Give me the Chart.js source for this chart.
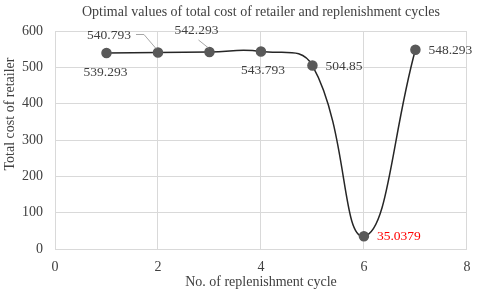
<!DOCTYPE html>
<html>
<head>
<meta charset="utf-8">
<script src="https://cdn.jsdelivr.net/npm/chart.js@4.4.1/dist/chart.umd.min.js"></script>
<style>
  html, body { margin: 0; padding: 0; background: #fff; }
</style>
</head>
<body>
<canvas id="costChart" width="480" height="295"></canvas>
<script>
// data
const cycles = [1, 2, 3, 4, 5, 6, 7];
const totalCost = [539.293, 540.793, 542.293, 543.793, 504.85, 35.0379, 548.293];
const xTicks = [0, 2, 4, 6, 8];
const yTicks = [0, 100, 200, 300, 400, 500, 600];

const chartTitle = 'Optimal values of total cost of retailer and replenishment cycles';
const xTitle = 'No. of replenishment cycle';
const yTitle = 'Total cost of retailer';

// where each value label sits, relative to its point
const labelPlacement = [
    { dx: -1, dy: 19, align: 'center' },
    { dx: -49, dy: -17, align: 'center', leader: [[-22, -18], [-14, -18], [-2, -4]] },
    { dx: -13, dy: -22, align: 'center', leader: [[-11, -12], [-1, -4]] },
    { dx: 2, dy: 19.5, align: 'center' },
    { dx: 13, dy: 1, align: 'left' },
    { dx: 13, dy: 0.5, align: 'left', color: '#ff0000' },
    { dx: 13, dy: 0.5, align: 'left' }
];

const serif = '"Liberation Serif", "Times New Roman", serif';
Chart.defaults.font.family = serif;
Chart.defaults.color = '#404040';

const valueLabels = {
    id: 'valueLabels',
    afterDatasetsDraw(chart) {
        const ctx = chart.ctx;
        const meta = chart.getDatasetMeta(0);
        ctx.save();
        ctx.font = '13.5px ' + serif;
        ctx.textBaseline = 'middle';
        meta.data.forEach(function(pt, i) {
            const p = labelPlacement[i];
            if (p.leader) {
                ctx.strokeStyle = '#a6a6a6';
                ctx.lineWidth = 1;
                ctx.beginPath();
                p.leader.forEach(function(q, k) {
                    if (k === 0) ctx.moveTo(pt.x + q[0], pt.y + q[1]);
                    else ctx.lineTo(pt.x + q[0], pt.y + q[1]);
                });
                ctx.stroke();
            }
            ctx.fillStyle = p.color || '#404040';
            ctx.textAlign = p.align;
            ctx.fillText(String(totalCost[i]), pt.x + p.dx, pt.y + p.dy);
        });

        // y axis title, placed like the original
        ctx.translate(10, 114);
        ctx.rotate(-Math.PI / 2);
        ctx.font = '14px ' + serif;
        ctx.fillStyle = '#404040';
        ctx.textAlign = 'center';
        ctx.fillText(yTitle, 0, 0);
        ctx.restore();
    }
};

const ctx = document.getElementById('costChart').getContext('2d');
const costChart = new Chart(ctx, {
    type: 'line',
    data: {
        datasets: [{
            data: cycles.map(function(c, i) { return { x: c, y: totalCost[i] }; }),
            borderColor: '#262626',
            borderWidth: 1.5,
            tension: 0.45,
            pointRadius: 4.5,
            pointBackgroundColor: '#595959',
            pointBorderColor: '#595959',
            clip: false
        }]
    },
    options: {
        responsive: false,
        animation: false,
        devicePixelRatio: 1,
        layout: { padding: { left: 0, right: 9, top: 0, bottom: 0 } },
        plugins: {
            legend: { display: false },
            tooltip: { enabled: false },
            title: {
                display: true,
                text: chartTitle,
                fullSize: false,
                color: '#404040',
                font: { size: 14, weight: 'normal' },
                padding: { top: 4.1, bottom: 10.1 }
            }
        },
        scales: {
            x: {
                type: 'linear',
                min: 0,
                max: 8,
                afterBuildTicks: function(scale) {
                    scale.ticks = xTicks.map(function(v) { return { value: v }; });
                },
                afterFit: function(scale) { scale.height = 46; },
                grid: { color: '#d9d9d9', drawTicks: false },
                border: { color: '#d9d9d9' },
                ticks: { padding: 9.6, font: { size: 14 } },
                title: {
                    display: true,
                    text: xTitle,
                    font: { size: 14 },
                    padding: { top: 0, bottom: 4.6 }
                }
            },
            y: {
                min: 0,
                max: 600,
                afterBuildTicks: function(scale) {
                    scale.ticks = yTicks.map(function(v) { return { value: v }; });
                },
                afterFit: function(scale) { scale.width = 55; },
                grid: { color: '#d9d9d9', drawTicks: false },
                border: { color: '#d9d9d9' },
                ticks: { padding: 12, font: { size: 14 } }
            }
        }
    },
    plugins: [valueLabels]
});
</script>
</body>
</html>
